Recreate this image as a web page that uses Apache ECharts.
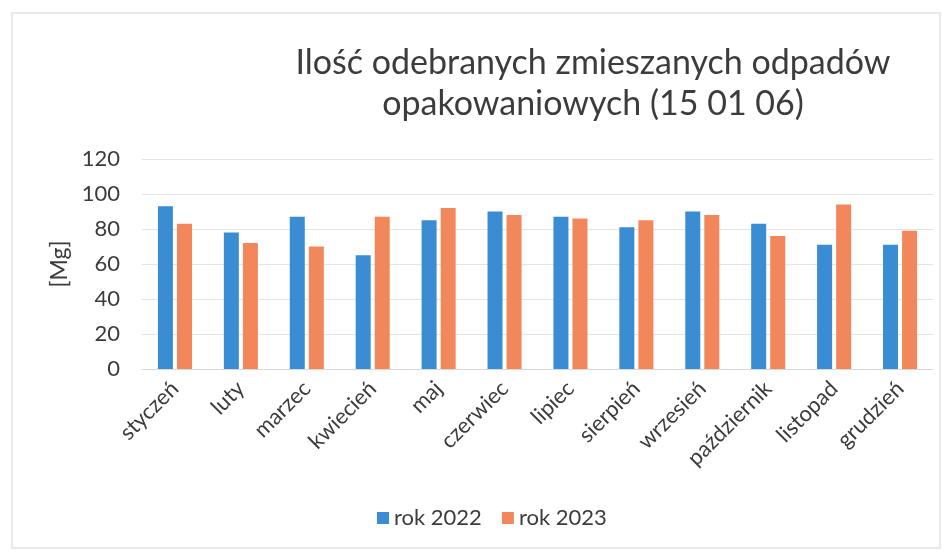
<!DOCTYPE html>
<html>
<head>
<meta charset="utf-8">
<script src="https://cdn.jsdelivr.net/npm/echarts@6/dist/echarts.min.js"></script>
<style>
  html, body { margin: 0; padding: 0; background: #fff; }
  #main { width: 950px; height: 556px; }
</style>
</head>
<body>
<div id="main"></div>
<script>
// dane
const months = ['styczeń', 'luty', 'marzec', 'kwiecień', 'maj', 'czerwiec', 'lipiec', 'sierpień', 'wrzesień', 'październik', 'listopad', 'grudzień'];
const rok2022 = [93, 78, 87, 65, 85, 90, 87, 81, 90, 83, 71, 71];
const rok2023 = [83, 72, 70, 87, 92, 88, 86, 85, 88, 76, 94, 79];
const yTicks = [0, 20, 40, 60, 80, 100, 120];

const font = 'Lato, "Open Sans", sans-serif';
const textColor = '#3c3c3c';

const chart = echarts.init(document.getElementById('main'));

const option = {
  backgroundColor: '#fff',
  animation: false,
  textStyle: { fontFamily: font },
  title: {
    text: 'Ilość odebranych zmieszanych odpadów\nopakowaniowych (15 01 06)',
    left: 588,
    top: 38,
    textAlign: 'center',
    textStyle: { fontFamily: font, fontSize: 34, fontWeight: 'normal', color: textColor, lineHeight: 41 }
  },
  graphic: [
    {
      type: 'rect',
      shape: { x: 12, y: 13, width: 928, height: 535 },
      style: { fill: 'none', stroke: '#e2e2e2', lineWidth: 1.5 },
      silent: true
    }
  ],
  legend: {
    bottom: 22,
    left: 372,
    itemWidth: 12,
    itemHeight: 12,
    itemGap: 20,
    icon: 'rect',
    textStyle: { fontFamily: font, fontSize: 22, color: textColor }
  },
  grid: { left: 142, right: 17, top: 159, bottom: 187 },
  xAxis: {
    type: 'category',
    data: months,
    axisLine: { lineStyle: { color: '#d9d9d9' } },
    axisTick: { show: false },
    axisLabel: { rotate: 45, fontSize: 22, color: textColor, margin: 16, interval: 0 }
  },
  yAxis: {
    type: 'value',
    min: yTicks[0],
    max: yTicks[yTicks.length - 1],
    interval: 20,
    name: '[Mg]',
    nameLocation: 'middle',
    nameGap: 63,
    nameTextStyle: { fontSize: 23, color: textColor },
    axisLine: { show: false },
    axisTick: { show: false },
    axisLabel: { fontSize: 22, color: textColor, margin: 22 },
    splitLine: { lineStyle: { color: '#e4e4e4' } }
  },
  series: [
    {
      name: 'rok 2022',
      type: 'bar',
      data: rok2022,
      barWidth: 15,
      barGap: '27%',
      itemStyle: { color: '#3a8dd3' }
    },
    {
      name: 'rok 2023',
      type: 'bar',
      data: rok2023,
      barWidth: 15,
      itemStyle: { color: '#f2875b' }
    }
  ]
};

chart.setOption(option);
</script>
</body>
</html>
